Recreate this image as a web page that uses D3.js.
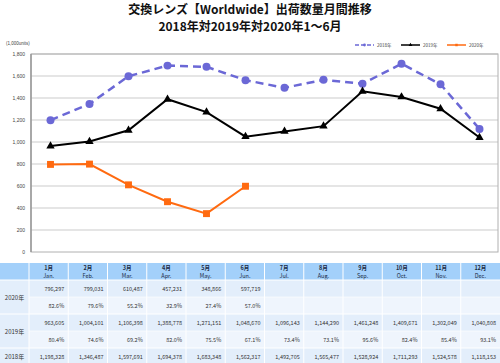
<!DOCTYPE html>
<html>
<head>
<meta charset="utf-8">
<script src="https://cdn.jsdelivr.net/npm/d3@7"></script>
<style>
  body { margin: 0; background: #fff; }
  svg { display: block; font-family: "Liberation Sans", Arial, sans-serif; }
</style>
</head>
<body>
<svg width="500" height="363"></svg>
<script>
// data (1,000 units in chart, raw units in table)
var months = ["1月", "2月", "3月", "4月", "5月", "6月", "7月", "8月", "9月", "10月", "11月", "12月"];
var monthsEn = ["Jan.", "Feb.", "Mar.", "Apr.", "May.", "Jun.", "Jul.", "Aug.", "Sep.", "Oct.", "Nov.", "Dec."];
var units2018 = [1198328, 1346487, 1597691, 1694378, 1683348, 1562317, 1492705, 1565477, 1528924, 1711293, 1524578, 1118153];
var units2019 = [963605, 1004101, 1106398, 1388778, 1271151, 1048670, 1096143, 1144290, 1461248, 1409671, 1302049, 1040808];
var units2020 = [796297, 799031, 610487, 457231, 348866, 597719];
var pct2019 = ["80.4%", "74.6%", "69.2%", "82.0%", "75.5%", "67.1%", "73.4%", "73.1%", "95.6%", "82.4%", "85.4%", "93.1%"];
var pct2020 = ["82.6%", "79.6%", "55.2%", "32.9%", "27.4%", "57.0%"];
var yTicks = [0, 200, 400, 600, 800, 1000, 1200, 1400, 1600, 1800];

var svg = d3.select("svg");

// title
var title = svg.append("g")
    .attr("font-family", "'Noto Sans CJK JP', sans-serif")
    .attr("font-weight", "bold")
    .attr("font-size", 12)
    .attr("text-anchor", "middle")
    .attr("fill", "#111");
title.append("text").attr("x", 250).attr("y", 13.5).text("交換レンズ【Worldwide】出荷数量月間推移");
title.append("text").attr("x", 250).attr("y", 31).text("2018年対2019年対2020年1～6月");

// scales
var x = d3.scaleBand().domain(months).range([31, 499]);
var y = d3.scaleLinear().domain([0, 1800]).range([252, 54]);

// grid
svg.append("g").selectAll("line")
    .data(yTicks.filter(function (d) { return d > 0; }))
    .enter().append("line")
    .attr("x1", 31).attr("x2", 498)
    .attr("y1", function (d) { return y(d); })
    .attr("y2", function (d) { return y(d); })
    .attr("stroke", "#dcdcdc")
    .attr("stroke-width", 1.5);

// plot frame
svg.append("rect")
    .attr("x", 31).attr("y", y(1800))
    .attr("width", 467).attr("height", y(0) - y(1800))
    .attr("fill", "none")
    .attr("stroke", "#b0b0b0")
    .attr("stroke-width", 1);
svg.append("line")
    .attr("x1", 31).attr("x2", 31).attr("y1", y(1800)).attr("y2", y(0))
    .attr("stroke", "#999").attr("stroke-width", 1.5);

// y axis labels
var yAxis = svg.append("g")
    .attr("transform", "translate(25,0)")
    .call(d3.axisLeft(y).tickValues(yTicks).tickSize(0).tickPadding(0).tickFormat(d3.format(",")));
yAxis.select(".domain").remove();
yAxis.selectAll("text").attr("font-size", 5).attr("fill", "#444");

svg.append("text")
    .attr("x", 6).attr("y", 45)
    .attr("font-size", 4.5).attr("fill", "#444")
    .text("(1,000units)");

// series
var series = [
    { name: "2018年", values: units2018, color: "#6b68d6", dash: "8,5", width: 2.5, marker: "circle" },
    { name: "2019年", values: units2019, color: "#000000", dash: null, width: 2, marker: "triangle" },
    { name: "2020年", values: units2020, color: "#ff6a10", dash: null, width: 2, marker: "square" }
];

var line = d3.line()
    .x(function (d, i) { return x(months[i]) + x.bandwidth() / 2; })
    .y(function (d) { return y(d / 1000); });

function drawMarker(g, type, color, size) {
    var sym = type === "circle" ? d3.symbolCircle : type === "triangle" ? d3.symbolTriangle : d3.symbolSquare;
    g.append("path")
        .attr("d", d3.symbol().type(sym).size(size))
        .attr("fill", color);
}

var markerSize = { circle: 50, triangle: 30, square: 48 };

series.forEach(function (s) {
    svg.append("path")
        .datum(s.values)
        .attr("d", line)
        .attr("fill", "none")
        .attr("stroke", s.color)
        .attr("stroke-width", s.width)
        .attr("stroke-dasharray", s.dash);

    svg.append("g").selectAll("g")
        .data(s.values)
        .enter().append("g")
        .attr("transform", function (d, i) {
            return "translate(" + (x(months[i]) + x.bandwidth() / 2) + "," + y(d / 1000) + ")";
        })
        .each(function () { drawMarker(d3.select(this), s.marker, s.color, markerSize[s.marker]); });
});

// legend
var legendX = [355, 401, 447];
var legend = svg.append("g").selectAll("g")
    .data(series)
    .enter().append("g")
    .attr("transform", function (d, i) { return "translate(" + legendX[i] + ",45)"; });
legend.append("line")
    .attr("x1", 0).attr("x2", 19).attr("y1", 0).attr("y2", 0)
    .attr("stroke", function (d) { return d.color; })
    .attr("stroke-width", 1.5)
    .attr("stroke-dasharray", function (d) { return d.dash ? "4,2" : null; });
legend.each(function (d) {
    var m = d3.select(this).append("g").attr("transform", "translate(9.5,0)");
    drawMarker(m, d.marker, d.color, 6);
});
legend.append("text")
    .attr("x", 22).attr("y", 1.6)
    .attr("font-size", 4.5)
    .attr("fill", "#444")
    .attr("font-family", "'Noto Sans CJK JP', sans-serif")
    .text(function (d) { return d.name; });

// table
var tx = d3.scaleBand().domain(months).range([29, 500]);
var rowY = [263, 280, 297, 314, 331, 348];
var rowH = 17;
var table = svg.append("g")
    .attr("font-family", "'Noto Sans CJK JP', sans-serif");

// header
table.append("rect").attr("x", 0).attr("y", rowY[0]).attr("width", 500).attr("height", rowH).attr("fill", "#a3d0fa");
table.append("g").selectAll("text")
    .data(months)
    .enter().append("text")
    .attr("x", function (d) { return tx(d) + tx.bandwidth() / 2; })
    .attr("y", rowY[0] + 7)
    .attr("text-anchor", "middle")
    .attr("font-size", 5.5)
    .attr("font-weight", "bold")
    .attr("fill", "#1a2a44")
    .text(function (d) { return d; });
table.append("g").selectAll("text")
    .data(monthsEn)
    .enter().append("text")
    .attr("x", function (d, i) { return tx(months[i]) + tx.bandwidth() / 2; })
    .attr("y", rowY[0] + 14.5)
    .attr("text-anchor", "middle")
    .attr("font-size", 5.5)
    .attr("fill", "#1a2a44")
    .text(function (d) { return d; });

// body rows
var rows = [
    { values: units2020.map(d3.format(",")), fill: "#e3eefb" },
    { values: pct2020, fill: "#eff5fd" },
    { values: units2019.map(d3.format(",")), fill: "#e3eefb" },
    { values: pct2019, fill: "#eff5fd" },
    { values: units2018.map(d3.format(",")), fill: "#e3eefb" }
];
rows.forEach(function (r, k) {
    var yy = rowY[k + 1];
    table.append("rect").attr("x", 29).attr("y", yy).attr("width", 471).attr("height", rowH).attr("fill", r.fill);
    table.append("g").selectAll("text")
        .data(r.values)
        .enter().append("text")
        .attr("x", function (d, i) { return tx(months[i]) + tx.bandwidth() - 4; })
        .attr("y", yy + 11)
        .attr("text-anchor", "end")
        .attr("font-size", 5.5)
        .attr("fill", "#333")
        .text(function (d) { return d; });
});

// row labels
var rowLabels = [
    { name: "2020年", y0: rowY[1], h: rowH * 2 },
    { name: "2019年", y0: rowY[3], h: rowH * 2 },
    { name: "2018年", y0: rowY[5], h: rowH }
];
rowLabels.forEach(function (r) {
    table.append("rect").attr("x", 0).attr("y", r.y0).attr("width", 29).attr("height", r.h).attr("fill", "#e3eefb");
    table.append("text")
        .attr("x", 14.5).attr("y", r.y0 + r.h / 2 + 2.5)
        .attr("text-anchor", "middle")
        .attr("font-size", 6)
        .attr("fill", "#333")
        .text(r.name);
});

// white cell borders
table.append("g").selectAll("line")
    .data(months)
    .enter().append("line")
    .attr("x1", function (d) { return tx(d); })
    .attr("x2", function (d) { return tx(d); })
    .attr("y1", rowY[0]).attr("y2", 363)
    .attr("stroke", "#fff").attr("stroke-width", 1);
table.append("g").selectAll("line")
    .data([rowY[1], rowY[3], rowY[5]])
    .enter().append("line")
    .attr("x1", 0).attr("x2", 500)
    .attr("y1", function (d) { return d; })
    .attr("y2", function (d) { return d; })
    .attr("stroke", "#fff").attr("stroke-width", 1);
table.append("g").selectAll("line")
    .data([rowY[2], rowY[4]])
    .enter().append("line")
    .attr("x1", 29).attr("x2", 500)
    .attr("y1", function (d) { return d; })
    .attr("y2", function (d) { return d; })
    .attr("stroke", "#fff").attr("stroke-width", 0.6);
</script>
</body>
</html>
